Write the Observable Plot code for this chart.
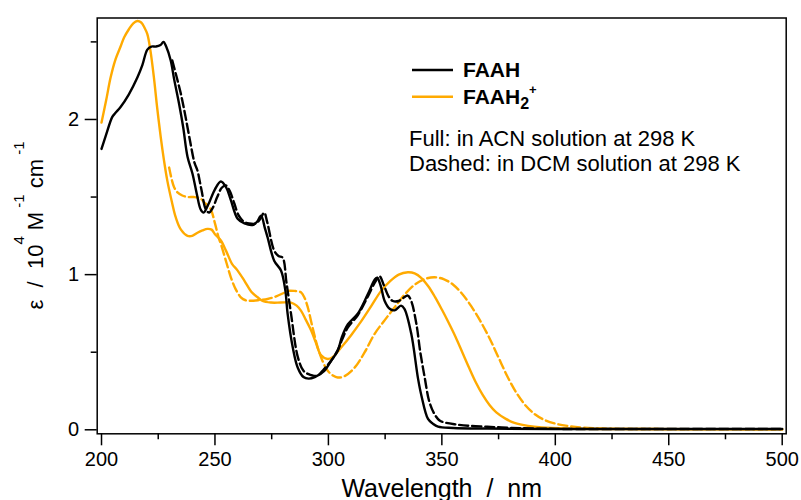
<!DOCTYPE html>
<html><head><meta charset="utf-8">
<script src="https://cdn.jsdelivr.net/npm/d3@7"></script>
<script src="https://cdn.jsdelivr.net/npm/@observablehq/plot@0.6"></script>
<style>body{margin:0;background:#fff}#chart{width:801px;height:500px}</style>
</head><body><div id="chart"></div>
<script>
// FAAH in ACN (solid black): [wavelength nm, epsilon 1e4 M-1 cm-1]
const faahACN = [[200,1.81],[202,1.90],[204.7,2.015],[206,2.04],[208.4,2.08],[212,2.16],[215.8,2.27],[218,2.35],[220.2,2.45],[222,2.47],[224,2.47],[226,2.48],[227.3,2.50],[228.5,2.47],[230.5,2.38],[232,2.26],[234.2,2.10],[236,1.95],[237.9,1.76],[240.1,1.65],[242,1.52],[243.7,1.42],[245,1.40],[247,1.45],[250,1.55],[252.6,1.60],[255,1.56],[257,1.48],[260,1.36],[263,1.33],[266.6,1.32],[268.5,1.34],[270.3,1.38],[272,1.30],[273.2,1.24],[276.1,1.09],[279.1,1.026],[281,0.90],[282,0.75],[284.3,0.53],[286.5,0.40],[289,0.34],[291.3,0.33],[294,0.34],[298.2,0.38],[301,0.44],[304.1,0.51],[306,0.60],[308.6,0.68],[313,0.75],[317.4,0.875],[320.5,0.97],[321.5,0.98],[323,0.93],[324.8,0.83],[327,0.78],[329.2,0.77],[332,0.80],[333.5,0.78],[336.5,0.62],[339.5,0.33],[341,0.22],[343.9,0.07],[346,0.04],[348.3,0.02],[355,0.012],[370,0.008],[400,0.005],[450,0.005],[500,0.005]];
// FAAH in DCM (dashed black)
const faahDCM = [[231.2,2.38],[233,2.28],[234.9,2.17],[237,2.02],[239.3,1.84],[241,1.72],[242.3,1.67],[244,1.55],[246,1.42],[247.4,1.40],[249,1.43],[251,1.50],[253,1.56],[254.8,1.575],[256.5,1.54],[258.5,1.46],[260.5,1.38],[262.9,1.34],[265,1.33],[268,1.33],[270,1.36],[271.7,1.40],[273,1.34],[276.1,1.155],[278,1.12],[279.8,1.11],[281.5,0.95],[283.5,0.75],[286.5,0.47],[289,0.38],[291,0.36],[293,0.35],[295.3,0.35],[298,0.39],[301.2,0.445],[304,0.51],[306,0.58],[308.6,0.66],[313,0.74],[317.4,0.86],[320.5,0.95],[322.5,0.99],[324.5,0.93],[326.5,0.86],[328.4,0.83],[331,0.83],[333,0.85],[335,0.865],[336.5,0.83],[338.8,0.68],[340.5,0.50],[342.4,0.34],[344.5,0.18],[346.8,0.10],[349,0.06],[351.3,0.047],[356,0.035],[361.6,0.026],[370,0.02],[376.3,0.015],[385,0.01],[400,0.006],[450,0.005],[500,0.005]];
// FAAH2+ in ACN (solid orange)
const faah2ACN = [[200,1.98],[202,2.12],[204,2.27],[206,2.38],[208.4,2.47],[210,2.53],[212,2.58],[214,2.62],[215.8,2.635],[217.5,2.625],[219,2.59],[220.2,2.55],[221.5,2.45],[223.1,2.27],[224.5,2.08],[226.1,1.886],[227.5,1.74],[229,1.606],[231,1.47],[232.7,1.37],[235,1.29],[237.9,1.25],[240,1.25],[242.3,1.27],[244.5,1.285],[246.7,1.295],[248.5,1.29],[250,1.26],[252.6,1.22],[255,1.15],[257.5,1.07],[260,1.026],[263,0.96],[266,0.89],[268.8,0.854],[271,0.83],[274.7,0.82],[279,0.82],[283.5,0.82],[286,0.80],[287.9,0.768],[290,0.71],[292.4,0.64],[294.5,0.56],[296.8,0.48],[299.7,0.456],[302,0.47],[305.6,0.53],[310,0.61],[314.5,0.70],[319,0.80],[323.3,0.897],[327,0.955],[331,1.00],[335,1.015],[338,1.008],[341,0.978],[344,0.925],[347,0.855],[350,0.775],[353,0.69],[356,0.60],[359,0.50],[362,0.40],[365,0.305],[368,0.225],[371,0.16],[374,0.112],[378,0.072],[382,0.045],[388,0.025],[394,0.015],[405,0.008],[430,0.005],[500,0.003]];
// FAAH2+ in DCM (dashed orange)
const faah2DCM = [[229.8,1.69],[231,1.61],[232,1.563],[233.5,1.53],[235.6,1.51],[238,1.50],[240.8,1.50],[243.7,1.49],[245.2,1.466],[246.5,1.45],[248.2,1.42],[250,1.33],[251.8,1.23],[252.6,1.198],[255,1.08],[257,0.983],[259,0.91],[261.4,0.854],[263.5,0.835],[265.8,0.832],[269,0.835],[273.2,0.843],[277,0.86],[280,0.88],[282,0.895],[285,0.895],[287.9,0.886],[289.5,0.85],[290.9,0.79],[293,0.66],[295.3,0.53],[297.5,0.44],[299.7,0.38],[302,0.35],[304.1,0.337],[307,0.345],[311.5,0.40],[316,0.50],[320.3,0.617],[325,0.71],[329.2,0.79],[333.5,0.87],[338,0.935],[342.5,0.972],[346.8,0.983],[351,0.97],[355,0.935],[359,0.875],[363,0.795],[367,0.70],[371,0.59],[375,0.465],[379,0.34],[383,0.235],[387,0.155],[391,0.10],[395,0.065],[400,0.04],[405.8,0.024],[412,0.014],[420.5,0.008],[440,0.005],[500,0.004]];

const xMajor = [200,250,300,350,400,450,500];
const xMinor = [225,275,325,375,425,475];
const yMajor = [0,1,2];
const yMinor = [0.5,1.5,2.5];
const legendLabels = ["FAAH","FAAH"];
const legendColors = ["#000000","#FFAA00"];
const noteLines = ["Full: in ACN solution at 298 K","Dashed: in DCM solution at 298 K"];
const xTitle = "Wavelength\u00a0\u00a0/\u00a0\u00a0nm";

const ORANGE = "#FFAA00";
const toRows = a => a.map(([x,y]) => ({x,y}));
const lineOpts = (color, dash) => ({x:"x", y:"y", stroke: color, strokeWidth: 2.4, curve: "catmull-rom", strokeDasharray: dash});

const svg = Plot.plot({
  width: 801, height: 500,
  marginLeft: 96.7, marginRight: 15.3, marginTop: 17.5, marginBottom: 66.7,
  style: {fontFamily: "'Liberation Sans', Arial, sans-serif", fontSize: "20px", color: "#000", background: "#fff"},
  x: {domain: [198.1, 501.76]},
  y: {domain: [-0.0258, 2.654]},
  marks: [
    Plot.axisX(xMajor, {tickSize: 12, tickPadding: 6, strokeWidth: 1.5, fontSize: 20, label: null, tickFormat: d => String(d)}),
    Plot.axisX(xMinor, {tickSize: 6, strokeWidth: 1.5, label: null, tickFormat: () => ""}),
    Plot.axisY(yMajor, {tickSize: 12, tickPadding: 6, strokeWidth: 1.5, fontSize: 20, label: null, tickFormat: d => String(d)}),
    Plot.axisY(yMinor, {tickSize: 6, strokeWidth: 1.5, label: null, tickFormat: () => ""}),
    Plot.line(toRows(faah2DCM), lineOpts(ORANGE, "9,4")),
    Plot.line(toRows(faah2ACN), lineOpts(ORANGE, null)),
    Plot.line(toRows(faahDCM), lineOpts("#000", "9,4")),
    Plot.line(toRows(faahACN), lineOpts("#000", null)),
    Plot.frame({stroke: "#000", strokeWidth: 1.5}),
    Plot.text([xTitle], {frameAnchor: "bottom", dy: 63, lineAnchor: "bottom", fontSize: 25, fill: "#000"})
  ]
});
document.getElementById("chart").appendChild(svg);

const s = d3.select(svg);
// y-axis title with superscripts
const yl = s.append("text")
  .attr("transform", "translate(43,225.4) rotate(-90)")
  .attr("text-anchor", "middle")
  .attr("font-size", 22).attr("fill", "#000");
yl.append("tspan").text("\u03b5\u00a0\u00a0/\u00a0\u00a010");
yl.append("tspan").attr("font-size", 15).attr("dy", -19).text("4");
yl.append("tspan").attr("dy", 19).text("\u00a0M");
yl.append("tspan").attr("font-size", 15).attr("dy", -19).text("\u00a0-1");
yl.append("tspan").attr("dy", 19).text("\u00a0cm");
yl.append("tspan").attr("font-size", 15).attr("dy", -19).text("\u00a0-1");

// legend
const lg = s.append("g").attr("fill", "#000").attr("text-anchor", "start");
const ys = [70, 96.7];
legendLabels.forEach((lab, i) => {
  lg.append("line").attr("x1", 412).attr("x2", 453).attr("y1", ys[i]).attr("y2", ys[i])
    .attr("stroke", legendColors[i]).attr("stroke-width", 2.4);
  const t = lg.append("text").attr("x", 463).attr("y", ys[i] + 7).attr("text-anchor", "start")
    .attr("font-size", 21).attr("font-weight", "bold").text(lab);
  if (i === 1) {
    t.append("tspan").attr("font-size", 16).attr("dy", 5).text("2");
    t.append("tspan").attr("font-size", 13).attr("dy", -15).text("+");
  }
});
noteLines.forEach((txt, i) => {
  lg.append("text").attr("x", 409).attr("y", 146 + i * 24.5).attr("text-anchor", "start")
    .attr("font-size", 22).text(txt);
});
</script></body></html>
